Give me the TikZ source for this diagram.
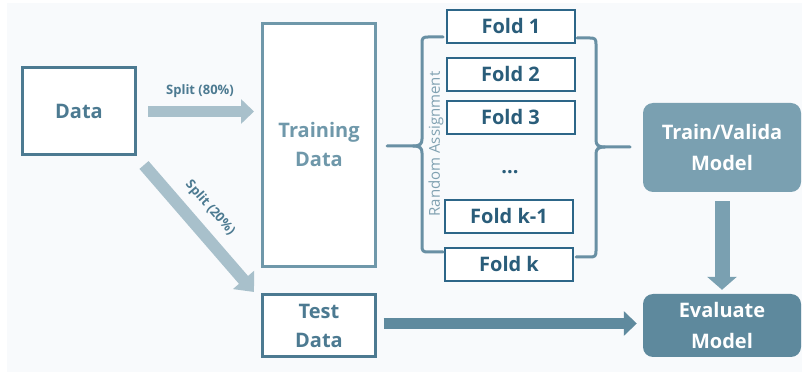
\documentclass[tikz,border=0pt]{standalone}
\usepackage{fontspec}
\setmainfont{Open Sans}
\usetikzlibrary{arrows.meta}

\definecolor{pagebg}{HTML}{F8FAFC}
\definecolor{datac}{HTML}{4C7A91}
\definecolor{trainc}{HTML}{6F98AA}
\definecolor{foldline}{HTML}{2D6688}
\definecolor{foldtext}{HTML}{2A5D7A}
\definecolor{bracec}{HTML}{6990A4}
\definecolor{randc}{HTML}{80A1B1}
\definecolor{splitc}{HTML}{A8C0CB}
\definecolor{testarrow}{HTML}{5F8A9E}
\definecolor{tvfill}{HTML}{7AA0B1}
\definecolor{evfill}{HTML}{5E899D}

\begin{document}
\begin{tikzpicture}[x=1pt,y=-1pt,
  outlinebox/.style={draw, line width=3pt, fill=white, inner sep=0pt, align=center,
    font=\fontsize{20}{29}\selectfont\bfseries},
  foldbox/.style={draw=foldline, line width=2pt, fill=white, inner sep=0pt,
    minimum width=128pt, minimum height=33pt, text=foldtext,
    font=\fontsize{20}{24}\selectfont\bfseries},
  modelbox/.style={rounded corners=10pt, inner sep=0pt, align=center, text=white,
    minimum width=158pt, font=\fontsize{20}{31}\selectfont\bfseries},
  fatarrow/.style={line width=#1},
  splitlabel/.style={text=datac, font=\fontsize{13}{15}\selectfont\bfseries},
  bracepath/.style={draw=bracec, line width=3pt, line cap=round, line join=round}
]
\useasboundingbox (0,0) rectangle (804,374);
\fill[white] (0,0) rectangle (804,374);
\fill[pagebg] (7,3) rectangle (802,372);

% data sets
\node[outlinebox, draw=datac, text=datac, minimum width=113pt, minimum height=87pt]
  (data) at (79,111) {Data};
\node[outlinebox, draw=trainc, text=trainc, minimum width=113pt, minimum height=243pt]
  (train) at (319,145) {Training\\Data};
\node[outlinebox, draw=datac, text=datac, minimum width=113pt, minimum height=62pt]
  (test) at (319,325.5) {Test\\Data};

% folds
\node[foldbox] (f1) at (511,26.5) {Fold 1};
\node[foldbox] (f2) at (510.5,74.5) {Fold 2};
\node[foldbox] (f3) at (510.5,117.5) {Fold 3};
\node[text=foldtext, font=\fontsize{20}{24}\selectfont\bfseries] (dots) at (510,172) {...};
\node[foldbox] (fk1) at (509,216.5) {Fold k-1};
\node[foldbox] (fk) at (509,264.5) {Fold k};

\node[rotate=90, text=randc, font=\fontsize{15}{17}\selectfont] (rand) at (436,144) {Random Assignment};

% models
\node[modelbox, fill=tvfill, minimum height=89pt] (tv) at (722,147.5) {Train/Valida\\Model};
\node[modelbox, fill=evfill, minimum height=63pt] (ev) at (722,325.5) {Evaluate\\Model};

% left brace
\coordinate (lbtop) at (443,37);
\coordinate (lbbot) at (443,252);
\coordinate (lbtip) at (387,146);
\draw[bracepath] (lbtop) -- (428,37) .. controls (423,37) and (422,38) .. (422,43)
  -- (422,139) .. controls (422,144) and (420,146) .. (413,146) -- (lbtip);
\draw[bracepath] (413,146) .. controls (420,146) and (422,148) .. (422,153)
  -- (422,246) .. controls (422,251) and (423,252) .. (428,252) -- (lbbot);

% right brace
\coordinate (rbtop) at (577,38);
\coordinate (rbbot) at (576,257);
\coordinate (rbtip) at (630,147);
\draw[bracepath] (rbtop) -- (590,38) .. controls (595,38) and (596,39) .. (596,44)
  -- (596,140) .. controls (596,145) and (598,147) .. (605,147) -- (rbtip);
\draw[bracepath] (605,147) .. controls (598,147) and (596,149) .. (596,154)
  -- (596,251) .. controls (596,256) and (595,257) .. (590,257) -- (rbbot);

% split arrows
\coordinate (s80a) at (148,111.5);
\coordinate (s80b) at (254,111.5);
\draw[fatarrow=11pt, splitc, -{Triangle[width=24pt,length=13pt]}] (s80a) -- (s80b);
\node[splitlabel] (l80) at (200,91) {Split (80\%)};

\coordinate (s20a) at (144,165);
\coordinate (s20b) at (254,292);
\draw[fatarrow=12pt, splitc, -{Triangle[width=27pt,length=16pt]}] (s20a) -- (s20b);
\node[splitlabel, rotate=-49] (l20) at (210,208) {Split (20\%)};

% test data to evaluation
\draw[fatarrow=11pt, testarrow, -{Triangle[width=24pt,length=13pt]},
  shorten <=6.5pt, shorten >=6pt] ([yshift=2pt]test.east) -- ([yshift=2pt]ev.west);

% training to evaluation
\draw[fatarrow=15pt, tvfill, -{Triangle[width=29pt,length=13pt]},
  shorten <=9pt, shorten >=4pt] (tv.south) -- (ev.north);
\end{tikzpicture}
\end{document}
